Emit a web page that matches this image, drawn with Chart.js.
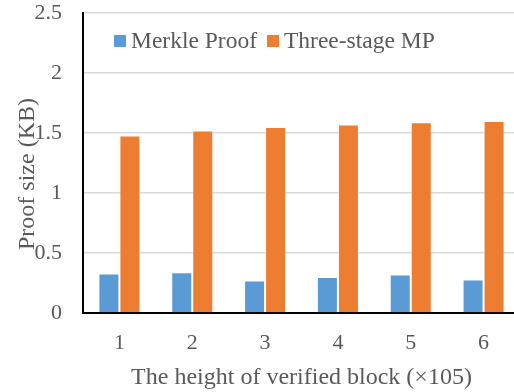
<!DOCTYPE html>
<html>
<head>
<meta charset="utf-8">
<script src="https://cdn.jsdelivr.net/npm/chart.js@4.4.1/dist/chart.umd.min.js"></script>
<style>
  html, body { margin: 0; padding: 0; background: #fff; }
  #wrap { position: relative; width: 514px; height: 392px; overflow: hidden; }
  #legend {
    position: absolute; left: 114px; top: 26px;
    font-family: 'Liberation Serif', 'Times New Roman', serif;
    font-size: 23.5px; color: #595959; white-space: nowrap; line-height: 28px;
  }
  #legend span.box { display: inline-block; width: 12px; height: 12px; margin-right: 5px; vertical-align: 1px; }
  #legend span.item { margin-right: 10px; }
</style>
</head>
<body>
<div id="wrap">
  <canvas id="chart" width="522" height="392"></canvas>
  <div id="legend"></div>
</div>
<script>
const categories = ["1", "2", "3", "4", "5", "6"];
const merkleProof = [0.33, 0.34, 0.27, 0.30, 0.32, 0.28];
const threeStageMP = [1.48, 1.52, 1.55, 1.57, 1.59, 1.60];
const seriesNames = ["Merkle Proof", "Three-stage MP"];
const seriesColors = ["#5B9BD5", "#ED7D31"];
const yTicks = [0, 0.5, 1, 1.5, 2, 2.5];

const FONT = "'Liberation Serif', 'Times New Roman', serif";
const TEXT = "#595959";

// y axis title sits over the tick labels in the original, so draw it by hand
const yTitlePlugin = {
  id: "yTitle",
  afterDraw(chart) {
    const ctx = chart.ctx;
    ctx.save();
    ctx.translate(27.5, 174);
    ctx.rotate(-Math.PI / 2);
    ctx.font = "24px " + FONT;
    ctx.fillStyle = TEXT;
    ctx.textAlign = "center";
    ctx.textBaseline = "middle";
    ctx.fillText("Proof size (KB)", 0, 0);
    ctx.restore();
  },
};

const drawChart = () => {
  const ctx = document.getElementById("chart").getContext("2d");
  const chart = new Chart(ctx, {
    type: "bar",
    data: {
      labels: categories,
      datasets: [
        {
          label: seriesNames[0],
          data: merkleProof,
          backgroundColor: seriesColors[0],
          borderColor: "rgba(255,255,255,0.45)",
          borderWidth: 1,
        },
        {
          label: seriesNames[1],
          data: threeStageMP,
          backgroundColor: seriesColors[1],
          borderColor: "rgba(255,255,255,0.45)",
          borderWidth: 1,
        },
      ],
    },
    options: {
      responsive: false,
      animation: false,
      devicePixelRatio: 1,
      layout: { padding: { left: 0, right: 2, top: 0, bottom: 0 } },
      datasets: {
        bar: { categoryPercentage: 0.577, barPercentage: 1.0 },
      },
      scales: {
        x: {
          afterFit(scale) { scale.height = 79; },
          grid: { display: false, drawTicks: false },
          border: { color: "#000", width: 2 },
          ticks: { color: TEXT, font: { family: FONT, size: 22 }, padding: 17 },
          title: {
            display: true,
            text: "The height of verified block (\u00d7105)",
            color: TEXT,
            font: { family: FONT, size: 24 },
            padding: { top: 4, bottom: 0 },
          },
        },
        y: {
          min: 0,
          max: 2.5,
          afterFit(scale) {
            scale.width = 83;
            scale.paddingTop = 13;
            scale.paddingBottom = 0;
          },
          afterBuildTicks(scale) { scale.ticks = yTicks.map(v => ({ value: v })); },
          grid: { color: "#D9D9D9", lineWidth: 1.5, drawTicks: false },
          border: { color: "#000", width: 2 },
          ticks: {
            color: TEXT,
            font: { family: FONT, size: 22 },
            padding: 21,
            callback: (v) => String(v),
          },
        },
      },
      plugins: {
        legend: { display: false },
        tooltip: { enabled: false },
      },
    },
    plugins: [yTitlePlugin],
  });

  // html legend inside the plot area, built from the datasets
  const legend = document.getElementById("legend");
  chart.data.datasets.forEach((ds) => {
    const item = document.createElement("span");
    item.className = "item";
    const box = document.createElement("span");
    box.className = "box";
    box.style.background = ds.backgroundColor;
    item.appendChild(box);
    item.appendChild(document.createTextNode(ds.label));
    legend.appendChild(item);
  });
};

// canvas text needs the serif face loaded before drawing
Promise.all([
  document.fonts.load("22px 'Liberation Serif'"),
  document.fonts.load("24px 'Liberation Serif'"),
]).then(drawChart, drawChart);
</script>
</body>
</html>
